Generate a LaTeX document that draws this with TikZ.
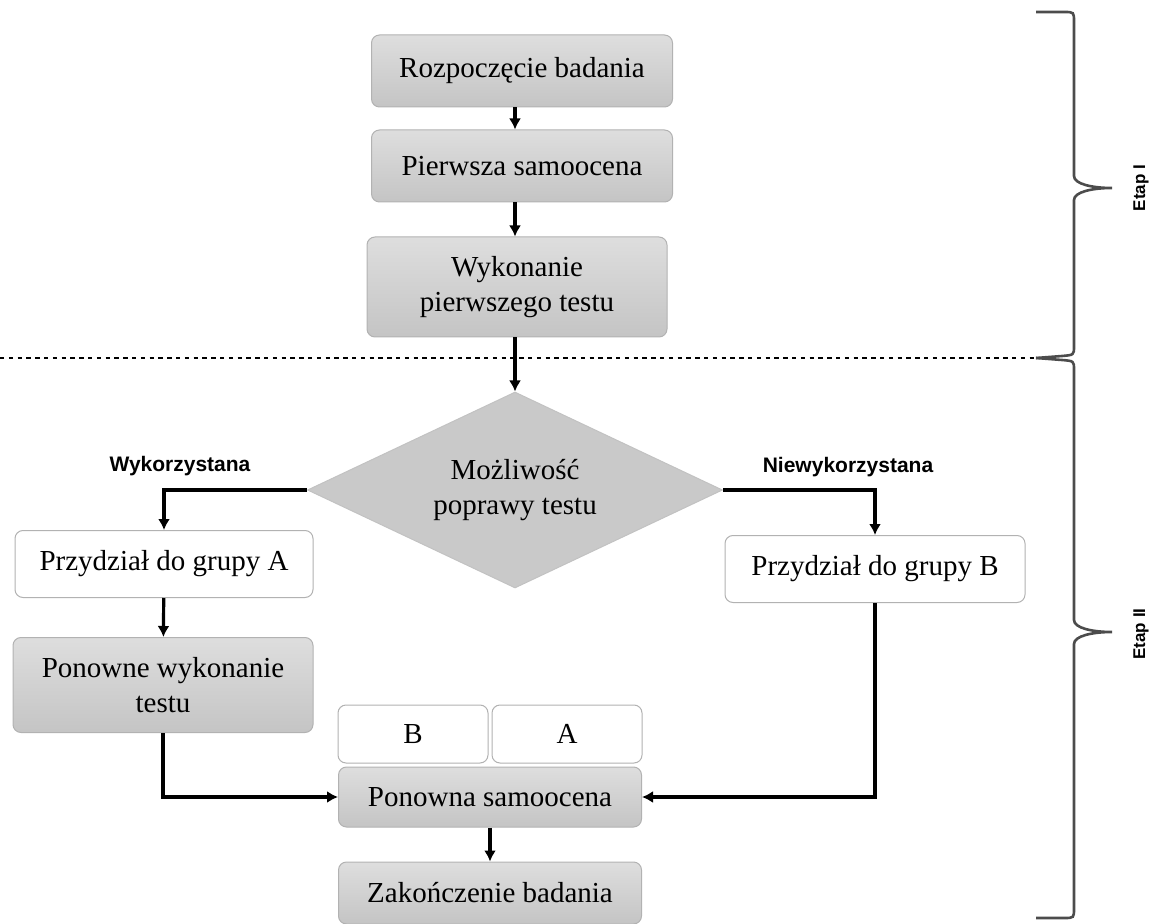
\documentclass[tikz,border=0pt]{standalone}
\usepackage{fontspec}
\setmainfont{Liberation Serif}
\newfontfamily\labelfont{Liberation Sans}
\usepackage{tikz}
\usetikzlibrary{calc, shapes, backgrounds, arrows.meta}

\begin{document}
\begin{tikzpicture}
  [
    x = 0.5pt, y = -0.5pt,   % one unit = one pixel of the layout
    every node/.style = {font = \fontsize{14.5}{17.5}\selectfont, align = center},
    basebox/.style = {draw = black!30, line width = 0.5pt, rounded corners = 4pt, inner sep = 2pt},
    graybox/.style = {basebox, top color = black!13, bottom color = black!23},
    whitebox/.style = {basebox, fill = white},
    decision/.style = {diamond, fill = black!21, draw = black!24, line width = 0.5pt,
                       shape aspect = 2.1, inner sep = 0pt,
                       minimum width = 207.5pt, minimum height = 98pt},
    arrow/.style = {-{Latex[length = 5.5pt, width = 6pt]}, line width = 1.6pt},
    tag/.style = {font = \labelfont\bfseries\fontsize{10.5}{12}\selectfont},
    stage/.style = {font = \labelfont\bfseries\fontsize{8.5}{10}\selectfont, rotate = 90},
    bracket/.style = {line width = 1.3pt, draw = black!70}
  ]
  \useasboundingbox (0,0) rectangle (1165,924);

  \node [graybox, minimum width = 150.5pt, minimum height = 36pt] (Start) at (522,71) {Rozpoczęcie badania};
  \node [graybox, minimum width = 150.5pt, minimum height = 36pt] (Self1) at (522,166) {Pierwsza samoocena};
  \node [graybox, minimum width = 150pt, minimum height = 50pt] (Test1) at (517,287) {Wykonanie\\pierwszego testu};
  \node [decision] (Fix) at (515,490) {Możliwość\\poprawy testu};
  \node [whitebox, minimum width = 149pt, minimum height = 33.5pt] (GroupA) at (164,564) {Przydział do grupy A};
  \node [whitebox, minimum width = 150pt, minimum height = 33.5pt] (GroupB) at (875,569) {Przydział do grupy B};
  \node [graybox, minimum width = 150pt, minimum height = 47.5pt] (Retest) at (163,685) {Ponowne wykonanie\\testu};
  \node [whitebox, minimum width = 75pt, minimum height = 29pt] (TagB) at (413,734) {B};
  \node [whitebox, minimum width = 75pt, minimum height = 29pt] (TagA) at (567,734) {A};
  \node [graybox, minimum width = 151.5pt, minimum height = 30pt] (Self2) at (490,797) {Ponowna samoocena};
  \node [graybox, minimum width = 151.5pt, minimum height = 31pt] (End) at (490,893) {Zakończenie badania};

  \draw [arrow] (Start.south -| Fix) -- (Self1.north -| Fix);
  \draw [arrow] (Self1.south -| Fix) -- (Test1.north -| Fix);
  \draw [arrow] (Test1.south -| Fix) -- (Fix.north);
  \draw [arrow] (Fix.west) -| (GroupA.north);
  \draw [arrow] (Fix.east) -| (GroupB.north);
  \draw [arrow] (GroupA) -- (Retest);
  \draw [arrow] (Retest.south) |- (Self2.west);
  \draw [arrow] (GroupB.south) |- (Self2.east);
  \draw [arrow] (Self2) -- (End);

  \begin{scope}[every node/.append style = {inner sep = 0pt}]
    \node [tag] (Used) at (180,466) {Wykorzystana};
    \node [tag] (Unused) at (848,467) {Niewykorzystana};
    \node [stage] (Stage1) at (1141,188) {Etap I};
    \node [stage] (Stage2) at (1141,634) {Etap II};
  \end{scope}

  \coordinate (SepL) at (0,358);
  \coordinate (SepR) at (1036,358);
  \draw [dash pattern = on 2.2pt off 2.2pt, line width = 1pt] (SepL) -- (SepR);

  % braces of the two stages
  \draw [bracket] (1036,12) -- (1064,12) .. controls (1074,12) .. (1074,22) -- (1074,176)
    .. controls (1074,184) and (1092,188) .. (1112,188)
    .. controls (1092,188) and (1074,192) .. (1074,200) -- (1074,346)
    .. controls (1074,355) .. (1062,356) -- (1036,358);
  \draw [bracket] (1036,358) -- (1062,360) .. controls (1074,361) .. (1074,370) -- (1074,620)
    .. controls (1074,628) and (1092,632) .. (1112,632)
    .. controls (1092,632) and (1074,636) .. (1074,644) -- (1074,908)
    .. controls (1074,918) .. (1064,918) -- (1036,918);
\end{tikzpicture}
\end{document}
